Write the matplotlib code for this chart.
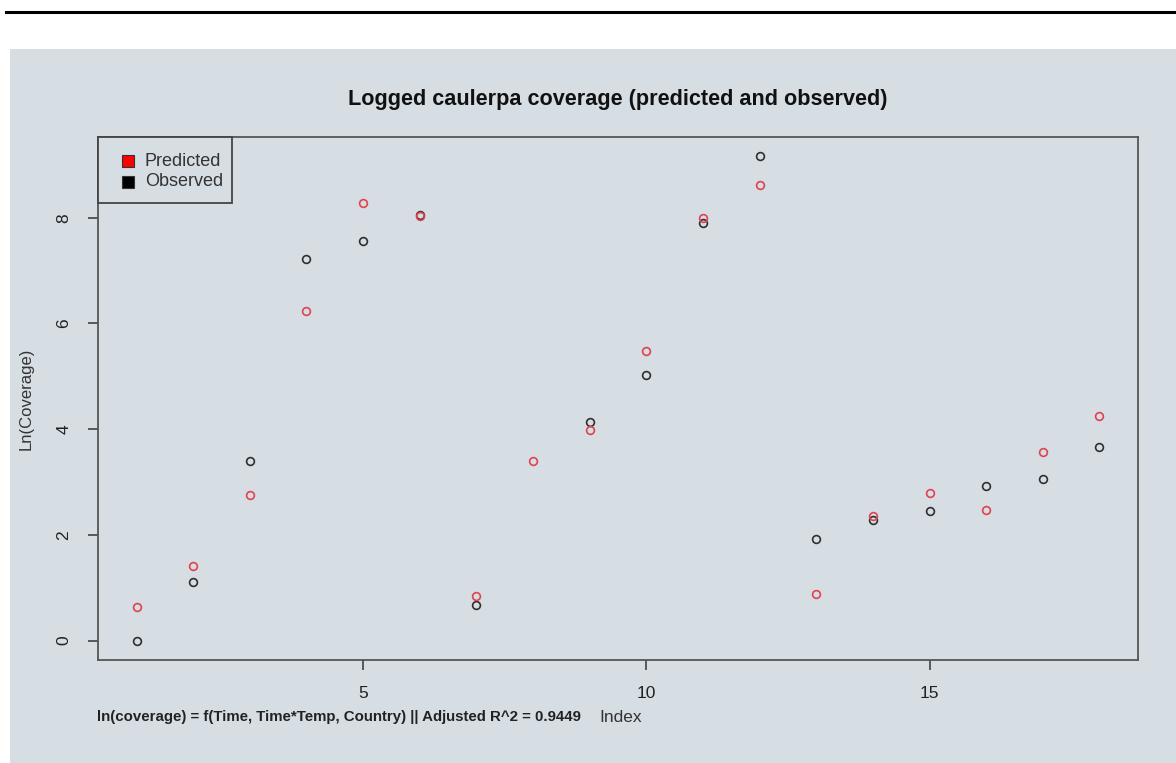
import numpy as np
import matplotlib
matplotlib.use("Agg")
import matplotlib.pyplot as plt
from matplotlib.patches import Rectangle
from matplotlib.lines import Line2D

plt.rcParams['font.family'] = ['Liberation Sans', 'DejaVu Sans']

index = np.arange(1, 19)
predicted = [0.63, 1.42, 2.75, 6.24, 8.28, 8.04, 0.85, 3.39, 3.98,
             5.48, 8.00, 8.61, 0.89, 2.35, 2.79, 2.48, 3.56, 4.25]
observed = [0.00, 1.10, 3.39, 7.22, 7.56, 8.06, 0.68, np.nan, 4.13,
            5.02, 7.90, 9.16, 1.93, 2.29, 2.45, 2.92, 3.05, 3.66]
x_ticks = [5, 10, 15]
y_ticks = [0, 2, 4, 6, 8]
legend_labels = ["Predicted", "Observed"]
title = "Logged caulerpa coverage (predicted and observed)"
note = "ln(coverage) = f(Time, Time*Temp, Country) || Adjusted R^2 = 0.9449"

W, H = 1176, 763
bg = '#d6dde3'
red = '#e0434f'
dark = '#2f2f2f'

fig = plt.figure(figsize=(W / 100, H / 100), dpi=100)
fig.patch.set_facecolor('white')


def fx(px):
    return px / W


def fy(py):
    return 1 - py / H


# panel background
fig.add_artist(Rectangle((fx(10), 0), 1 - fx(10), fy(49),
                         transform=fig.transFigure, facecolor=bg,
                         edgecolor='none', zorder=0))
# top black rule
fig.add_artist(Line2D([fx(6), 1], [fy(12), fy(12)],
                      transform=fig.transFigure, color='black', lw=2.2))

left, right, top, bottom = 98, 1138, 137, 660
ax = fig.add_axes([fx(left), fy(bottom), (right - left) / W, (bottom - top) / H])
ax.set_facecolor(bg)

ax.plot(index, observed, 'o', mfc='none', mec=dark, ms=5.6, mew=1.2, ls='none')
ax.plot(index, predicted, 'o', mfc='none', mec=red, ms=5.6, mew=1.2, ls='none')

xmin, xmax = index.min(), index.max()
allv = np.concatenate([np.array(predicted), np.array(observed)])
ymin, ymax = np.nanmin(allv), np.nanmax(allv)
ax.set_xlim(xmin - 0.04 * (xmax - xmin), xmax + 0.04 * (xmax - xmin))
ax.set_ylim(ymin - 0.04 * (ymax - ymin), ymax + 0.04 * (ymax - ymin))

ax.set_xticks(x_ticks)
ax.set_yticks(y_ticks)
ax.tick_params(axis='both', direction='out', length=7, width=1.1,
               color='#333333', labelsize=12.5, labelcolor='#222222')
ax.tick_params(axis='x', pad=12)
ax.tick_params(axis='y', pad=12)
for lab in ax.get_yticklabels():
    lab.set_rotation(90)
    lab.set_va('center')
for s in ax.spines.values():
    s.set_color('#555555')
    s.set_linewidth(1.3)

fig.text(fx(618), fy(100), title, fontsize=15.6, fontweight='bold',
         color='#111111', ha='center', va='center')
ax.set_ylabel("Ln(Coverage)", fontsize=12, color='#333333', labelpad=16.5)
fig.text(fx(621), fy(717), "Index", fontsize=12.5, color='#333333',
         ha='center', va='center')
fig.text(fx(97), fy(717), note, fontsize=10.8, fontweight='bold',
         ha='left', va='center', color='#222222')

# legend box
fig.add_artist(Rectangle((fx(98), fy(203)), fx(232) - fx(98), fy(137) - fy(203),
                         transform=fig.transFigure, facecolor=bg,
                         edgecolor='#444444', lw=1.3, zorder=5))
for i, (lab, col) in enumerate(zip(legend_labels, ['#ff0000', 'black'])):
    cy = 161 + 21 * i
    fig.add_artist(Rectangle((fx(122), fy(cy + 5.5)), fx(12), 11 / H,
                             transform=fig.transFigure, facecolor=col,
                             edgecolor='#333333', lw=0.8, zorder=6))
    fig.text(fx(145), fy(cy), lab, fontsize=13, color='#333333',
             ha='left', va='center', zorder=6)

fig.savefig("out.png", dpi=100, facecolor=fig.get_facecolor())
